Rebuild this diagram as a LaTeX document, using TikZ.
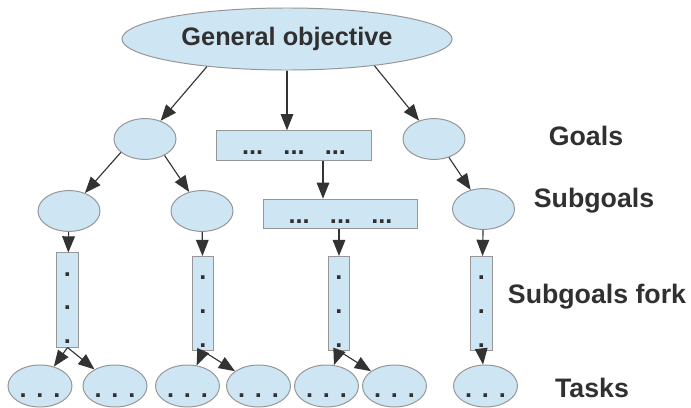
\documentclass[tikz,border=0pt]{standalone}
\usepackage{fontspec}
\setmainfont{Liberation Sans}
\usetikzlibrary{shapes.geometric, arrows.meta}

\definecolor{nodeblue}{RGB}{206,229,244}
\definecolor{nodeedge}{RGB}{150,150,150}
\definecolor{inkgray}{RGB}{48,48,48}

\begin{document}
\begin{tikzpicture}[
    x=0.025cm, y=-0.025cm,
    base/.style={draw=nodeedge, fill=nodeblue, line width=0.7pt, inner sep=0pt, text=inkgray,
                 font=\fontsize{18}{20}\selectfont\bfseries},
    blob/.style={base, ellipse, minimum width=1.55cm, minimum height=1.02cm},
    task/.style={base, ellipse, minimum width=1.6cm, minimum height=1.05cm, text height=16pt, text depth=0pt},
    wide/.style={base, rectangle, minimum width=3.87cm, minimum height=0.74cm, text height=13.5pt, text depth=0pt},
    fork/.style={base, rectangle, minimum width=0.53cm, minimum height=2.35cm, align=center,
                 font=\fontsize{18}{24}\selectfont\bfseries, text height=64.4pt, text depth=2.2pt},
    objective/.style={base, ellipse, minimum width=8.25cm, minimum height=1.55cm},
    tier/.style={text=inkgray, anchor=base, font=\fontsize{19}{21}\selectfont\bfseries},
    arrow/.style={-{Triangle[length=11.5pt,width=9pt]}, draw=black!80, line width=0.8pt}
]
\useasboundingbox (0,0) rectangle (691,408);

% General objective
\node[objective] (general) at (287,39) {General objective};

% Goals
\node[blob] (goal_left) at (145,139) {};
\node[wide] (goal_mid) at (294,145.5) {...\hspace{0.8em}...\hspace{0.8em}...};
\node[blob] (goal_right) at (434,139) {};

% Subgoals
\node[blob] (sub_1) at (69,211) {};
\node[blob] (sub_2) at (202,211) {};
\node[wide] (sub_mid) at (340.5,214) {...\hspace{0.8em}...\hspace{0.8em}...};
\node[blob] (sub_4) at (483.5,209) {};

% Subgoals fork
\node[fork] (fork_1) at (67.5,300) {.\\.\\.};
\node[fork] (fork_2) at (203,303.5) {.\\.\\.};
\node[fork] (fork_3) at (339,303.5) {.\\.\\.};
\node[fork] (fork_4) at (481.5,303.5) {.\\.\\.};

% Tasks
\node[task] (task_1) at (40,386) {.\hspace{7pt}.\hspace{7pt}.};
\node[task] (task_2) at (115,386) {.\hspace{7pt}.\hspace{7pt}.};
\node[task] (task_3) at (187.5,386) {.\hspace{7pt}.\hspace{7pt}.};
\node[task] (task_4) at (258.5,386) {.\hspace{7pt}.\hspace{7pt}.};
\node[task] (task_5) at (326.5,386) {.\hspace{7pt}.\hspace{7pt}.};
\node[task] (task_6) at (394.5,386) {.\hspace{7pt}.\hspace{7pt}.};
\node[task] (task_7) at (485.5,386) {.\hspace{7pt}.\hspace{7pt}.};

% Level names
\node[tier] (goals_name) at (586,145) {Goals};
\node[tier] (subgoals_name) at (594,207) {Subgoals};
\node[tier] (fork_name) at (597,303) {Subgoals fork};
\node[tier] (tasks_name) at (592,397) {Tasks};

% Connections
\draw[arrow] (general.199) -- (goal_left);
\draw[arrow] (general.south) -- (general.south |- goal_mid.north);
\draw[arrow] (general.343) -- (goal_right);

\draw[arrow] (goal_left.209) -- (sub_1);
\draw[arrow] (goal_left.320) -- (sub_2);
\draw[arrow] ([xshift=0.725cm]goal_mid.south) -- ([xshift=0.725cm]goal_mid.south |- sub_mid.north);
\draw[arrow] (goal_right.309) -- (sub_4);

\draw[arrow] (sub_1) -- (fork_1);
\draw[arrow] (sub_2) -- (fork_2);
\draw[arrow] (sub_mid.south -| fork_3.north) -- (fork_3.north);
\draw[arrow] (sub_4) -- (fork_4);

\draw[arrow] (fork_1.south) -- (task_1);
\draw[arrow] (fork_1.south) -- (task_2);
\draw[arrow] (fork_2.south) -- (task_3);
\draw[arrow] (fork_2.south) -- (task_4);
\draw[arrow] (fork_3.south) -- (task_5);
\draw[arrow] (fork_3.south) -- (task_6);
\draw[arrow] (fork_4.south) -- (task_7);

\end{tikzpicture}
\end{document}
